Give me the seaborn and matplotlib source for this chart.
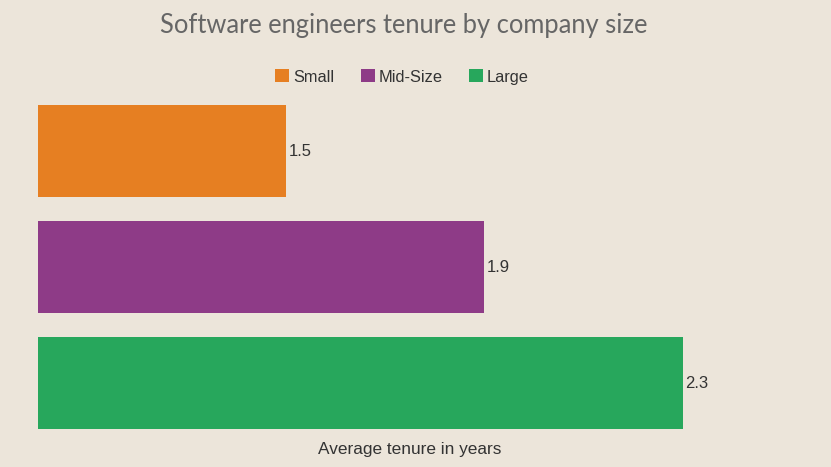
import pandas as pd
import matplotlib
matplotlib.use("Agg")
import matplotlib.pyplot as plt
import seaborn as sns

# data
company_size = ["Small", "Mid-Size", "Large"]
tenure_years = [1.5, 1.9, 2.3]
bar_colors = ["#E67F22", "#8E3B87", "#27A75C"]

BG = "#ECE5DA"

df = pd.DataFrame({"Size": company_size, "Tenure": tenure_years})

sns.set_theme(style="white")
plt.rcParams["font.family"] = ["Liberation Sans", "DejaVu Sans"]

fig = plt.figure(figsize=(8.31, 4.67), dpi=100, facecolor=BG)
ax = fig.add_axes([38 / 831, 26 / 467, 744 / 831, 348 / 467])
ax.set_facecolor(BG)

sns.barplot(data=df, y="Size", x="Tenure", hue="Size", order=company_size,
            hue_order=company_size, palette=bar_colors, width=0.79,
            dodge=False, legend=True, ax=ax, saturation=1, linewidth=0)

ax.set_xlim(1.0, 2.5)
ax.set_ylim(2.5, -0.5)
for c in ax.containers:
    ax.bar_label(c, fmt="%.1f", padding=2, fontsize=12, color="#333333")

ax.set_xticks([])
ax.set_yticks([])
ax.set_ylabel("")
ax.set_xlabel("Average tenure in years", fontsize=12.4, color="#333333", labelpad=1)
for s in ax.spines.values():
    s.set_visible(False)

handles, labels = ax.get_legend_handles_labels()
ax.get_legend().remove()
fig.legend(handles, labels, loc="center", bbox_to_anchor=(402 / 831, 1 - 77 / 467),
           ncol=3, frameon=False, fontsize=11.8, handlelength=0.85, handleheight=0.85,
           handletextpad=0.25, columnspacing=1.6, labelcolor="#333333")

fig.text(404 / 831, 1 - 25 / 467, "Software engineers tenure by company size",
         ha="center", va="center", fontsize=18.4, color="#666666", family="Lato")

fig.savefig("out.png", dpi=100, facecolor=BG)
